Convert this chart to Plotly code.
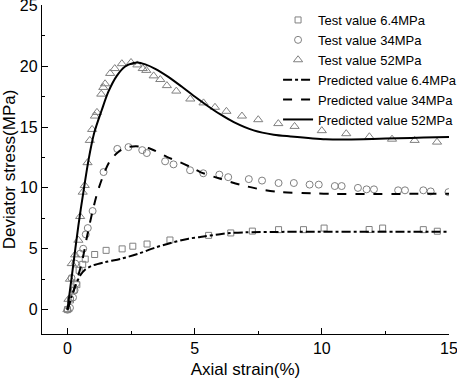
import plotly.graph_objects as go

# ---- Test data ----
test_64_x = [0.0, 0.12, 0.26, 0.37, 0.46, 0.6, 0.7, 1.07, 1.52, 2.15, 2.57, 3.13, 4.03, 5.55, 6.42, 7.27, 8.3, 9.28, 10.09, 11.86, 12.39, 13.99, 14.54]
test_64_y = [0.0, 0.8, 1.6, 2.05, 3.23, 3.72, 4.15, 4.53, 4.87, 4.99, 5.21, 5.39, 5.72, 6.1, 6.3, 6.45, 6.57, 6.57, 6.7, 6.58, 6.7, 6.57, 6.44]

test_34_x = [0.0, 0.1, 0.22, 0.28, 0.34, 0.16, 0.31, 0.5, 0.62, 0.72, 0.8, 0.99, 1.42, 1.96, 2.4, 2.94, 3.12, 3.84, 4.17, 4.82, 5.34, 5.97, 6.32, 7.13, 7.65, 8.3, 8.9, 9.52, 9.88, 10.51, 10.78, 11.42, 11.76, 12.05, 13.0, 13.27, 13.99, 14.28, 14.98]
test_34_y = [0.0, 0.15, 1.0, 1.6, 2.15, 2.6, 3.78, 4.6, 5.0, 6.18, 6.7, 8.1, 11.3, 13.2, 13.35, 13.1, 12.86, 12.18, 11.93, 11.45, 11.2, 11.09, 10.88, 10.72, 10.6, 10.4, 10.4, 10.27, 10.27, 10.15, 10.15, 10.0, 9.88, 9.88, 9.8, 9.8, 9.8, 9.71, 9.65]

test_52_x = [0.0, 0.04, 0.1, 0.17, 0.3, 0.43, 0.5, 0.6, 0.68, 0.79, 0.88, 0.97, 1.08, 1.16, 1.33, 1.41, 1.48, 1.68, 1.86, 2.14, 2.5, 2.75, 2.96, 3.1, 3.39, 3.65, 3.91, 4.28, 4.83, 5.35, 5.8, 6.25, 6.86, 7.5, 8.29, 8.93, 10.0, 10.96, 11.87, 12.76, 13.65, 14.53]
test_52_y = [0.0, 0.85, 2.5, 3.78, 4.5, 5.7, 7.65, 9.65, 10.2, 12.07, 13.9, 14.8, 15.9, 16.2, 17.7, 18.25, 18.55, 19.4, 19.8, 20.2, 20.3, 20.1, 19.8, 19.65, 19.2, 18.9, 18.4, 17.95, 17.3, 16.98, 16.62, 16.29, 15.9, 15.6, 15.28, 15.05, 14.7, 14.45, 14.2, 14.0, 13.9, 13.76]

# ---- Predicted curves ----
pred_64_x = [0.0, 0.15, 0.3, 0.5, 0.7, 0.96, 1.48, 2.14, 2.8, 3.45, 4.11, 4.76, 5.22, 6.0, 6.41, 7.0, 8.0, 10.0, 12.0, 15.0]
pred_64_y = [0.0, 1.0, 1.9, 2.8, 3.3, 3.6, 3.9, 4.2, 4.6, 5.1, 5.5, 5.83, 5.96, 6.2, 6.29, 6.35, 6.38, 6.4, 6.4, 6.4]

pred_34_x = [0.0, 0.3, 0.57, 0.76, 1.0, 1.22, 1.5, 1.7, 2.0, 2.3, 2.7, 3.26, 3.91, 4.44, 4.9, 5.22, 6.01, 6.8, 7.59, 8.37, 9.6, 10.5, 12.0, 15.0]
pred_34_y = [0.0, 1.9, 3.9, 5.9, 8.2, 9.9, 11.5, 12.3, 12.95, 13.3, 13.42, 13.22, 12.55, 12.1, 11.65, 11.3, 10.75, 10.26, 9.88, 9.66, 9.55, 9.5, 9.5, 9.52]

pred_52_x = [0.0, 0.2, 0.43, 0.63, 0.83, 1.05, 1.35, 1.61, 1.94, 2.27, 2.6, 2.75, 3.06, 3.45, 3.98, 4.5, 5.0, 5.5, 6.0, 6.54, 7.32, 8.11, 8.77, 10.15, 11.0, 12.0, 13.0, 14.0, 15.0]
pred_52_y = [0.0, 3.2, 6.9, 9.7, 12.3, 14.5, 16.4, 17.9, 19.2, 19.97, 20.25, 20.3, 20.14, 19.78, 19.1, 18.3, 17.5, 16.75, 16.05, 15.4, 14.72, 14.37, 14.23, 14.0, 13.98, 14.02, 14.08, 14.13, 14.17]

FONT = "Arial, Liberation Sans, sans-serif"
GRAY = "rgb(128,128,128)"

fig = go.Figure()

for name, xs, ys, sym, size in [
    ("Test value 6.4MPa", test_64_x, test_64_y, "square-open", 6),
    ("Test value 34MPa", test_34_x, test_34_y, "circle-open", 7),
    ("Test value 52MPa", test_52_x, test_52_y, "triangle-up-open", 8),
]:
    fig.add_trace(go.Scatter(
        x=xs, y=ys, mode="markers", name=name,
        marker=dict(symbol=sym, size=size, color=GRAY, line=dict(width=1, color=GRAY)),
    ))

for name, xs, ys, dash in [
    ("Predicted value 6.4MPa", pred_64_x, pred_64_y, "dashdot"),
    ("Predicted value 34MPa", pred_34_x, pred_34_y, "dash"),
    ("Predicted value 52MPa", pred_52_x, pred_52_y, "solid"),
]:
    fig.add_trace(go.Scatter(
        x=xs, y=ys, mode="lines", name=name,
        line=dict(color="black", width=2, dash=dash, shape="spline", smoothing=0.8),
    ))

axis_common = dict(
    showgrid=False, zeroline=False, showline=True, linecolor="black", linewidth=1.3,
    ticks="inside", ticklen=6, tickwidth=1.3, tickcolor="black",
    tickfont=dict(family=FONT, size=16, color="black"),
    automargin=False, ticklabeloverflow="allow",
)

fig.update_xaxes(
    range=[-1, 15], tick0=0, dtick=5,
    title=dict(text="Axial strain(%)", font=dict(family=FONT, size=17, color="black"), standoff=6),
    minor=dict(ticks="inside", ticklen=3, tickwidth=1.3, tickcolor="black", tick0=0, dtick=2.5),
    **axis_common,
)
fig.update_yaxes(
    range=[-2, 25.02], tick0=0, dtick=5,
    title=dict(text="Deviator stress(MPa)", font=dict(family=FONT, size=17, color="black"), standoff=0),
    minor=dict(ticks="inside", ticklen=3, tickwidth=1.3, tickcolor="black", tick0=0, dtick=2.5),
    **axis_common,
)

fig.update_layout(
    width=457, height=382,
    margin=dict(l=42, r=8, t=5, b=48, autoexpand=False),
    plot_bgcolor="white", paper_bgcolor="white",
    font=dict(family=FONT, color="black"),
    legend=dict(
        x=0.58, y=1.0, xanchor="left", yanchor="top",
        bgcolor="rgba(0,0,0,0)", font=dict(family=FONT, size=13, color="black"),
        tracegroupgap=0, itemwidth=30,
    ),
    showlegend=True,
)

fig.write_html(
    "out.html",
    config={"displayModeBar": False},
    post_script="document.body.style.margin='0';document.body.style.padding='0';",
)
